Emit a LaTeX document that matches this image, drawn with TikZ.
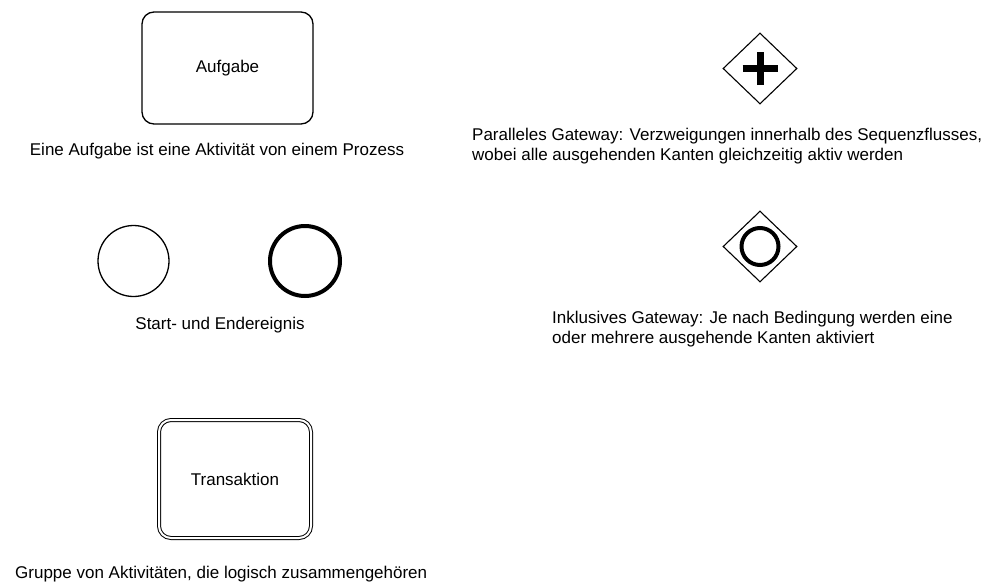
\documentclass[tikz,border=0pt]{standalone}
\usepackage{fontspec}
\setmainfont{Liberation Sans}
\usetikzlibrary{shapes.geometric}
\begin{document}
\begin{tikzpicture}[x=1pt,y=-1pt,
  every node/.style={font=\fontsize{17}{19.5}\selectfont},
  taskbox/.style={draw, line width=1.3pt, rounded corners=12pt, minimum width=171pt, minimum height=112pt, inner sep=0pt},
  transbox/.style={draw, line width=1pt, double, double distance=2pt, rounded corners=12pt, minimum width=152pt, minimum height=118pt, inner sep=0pt},
  gateway/.style={draw, diamond, line width=1.1pt, minimum width=74pt, minimum height=71pt, inner sep=0pt},
  startev/.style={draw, circle, line width=1.3pt, minimum size=71pt, inner sep=0pt},
  endev/.style={draw, circle, line width=4pt, minimum size=70pt, inner sep=0pt},
  caption/.style={inner sep=0pt, align=left}
]
\useasboundingbox (0,0) rectangle (982,587);

% Task
\node[taskbox] (task) at (227.5,68) {Aufgabe};
\node[caption] (tasktxt) at (217,151) {Eine Aufgabe ist eine Aktivität von einem Prozess};

% Start and end events
\node[startev] (start) at (133.5,261) {};
\node[endev] (end) at (305,261) {};
\node[caption] (eventtxt) at (220,325) {Start- und Endereignis};

% Transaction
\node[transbox] (trans) at (235,479) {Transaktion};
\node[caption, anchor=west] (transtxt) at (15,574) {Gruppe von Aktivitäten, die logisch zusammengehören};

% Parallel gateway
\node[gateway] (pgw) at (760,68.5) {};
\draw[line width=7pt] ([xshift=-17.5pt]pgw.center) -- ([xshift=17.5pt]pgw.center);
\draw[line width=7pt] ([yshift=-16.5pt]pgw.center) -- ([yshift=16.5pt]pgw.center);
\node[caption, anchor=north west] (pgwtxt) at (472,128) {Paralleles Gateway: Verzweigungen innerhalb des Sequenzflusses,\\wobei alle ausgehenden Kanten gleichzeitig aktiv werden};

% Inclusive gateway
\node[gateway] (igw) at (760,246.5) {};
\node[draw, circle, line width=4pt, minimum size=37pt, inner sep=0pt] (igwmark) at (igw.center) {};
\node[caption, anchor=north west] (igwtxt) at (552,311) {Inklusives Gateway: Je nach Bedingung werden eine\\oder mehrere ausgehende Kanten aktiviert};
\end{tikzpicture}
\end{document}
